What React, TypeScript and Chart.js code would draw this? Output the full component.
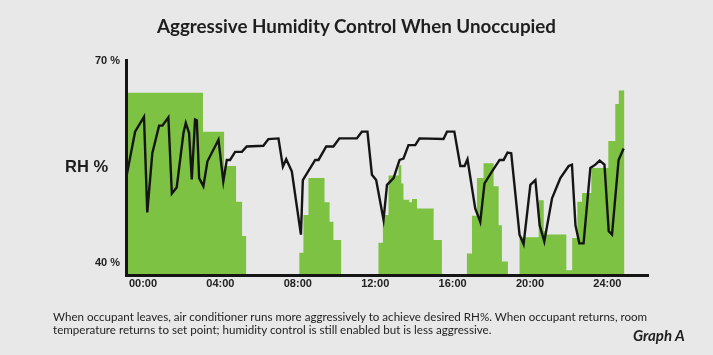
import React, { useEffect, useRef } from "react";
import { Chart, registerables } from "chart.js";

Chart.register(...registerables);

// ---- data ----
const TITLE = "Aggressive Humidity Control When Unoccupied";
const Y_LABEL = "RH %";
const CAPTION_LINES = [
  "When occupant leaves, air conditioner runs more aggressively to achieve desired RH%. When occupant returns, room",
  "temperature returns to set point; humidity control is still enabled but is less aggressive.",
];
const GRAPH_TAG = "Graph A";

const hourTicks = [0, 4, 8, 12, 16, 20, 24];
const rhTicks = [40, 70];
const HOUR_MIN = -0.88;
const HOUR_MAX = 26.1;
const RH_MIN = 38.2;
const RH_MAX = 70.15;
const FLOOR = RH_MIN;

// measured relative humidity (black line)
const rhHours = [
  -0.84, -0.41, 0.05, 0.22, 0.48, 0.83, 1.0, 1.31, 1.49, 1.74, 2.09, 2.21, 2.38, 2.52, 2.69, 2.78, 2.9, 3.12,
  3.33, 3.9, 4.15, 4.33, 4.5, 4.76, 5.11, 5.36, 6.22, 6.48, 7.0, 7.23, 7.4, 7.69, 7.95, 8.16, 8.26, 8.9, 9.07,
  9.47, 9.84, 10.15, 11.05, 11.31, 11.6, 11.83, 12.05, 12.43, 12.61, 12.95, 13.26, 13.46, 13.72, 14.07, 14.29,
  15.53, 15.71, 16.09, 16.4, 16.62, 16.77, 17.17, 17.43, 17.65, 18.04, 18.43, 18.64, 18.84, 19.03, 19.46,
  19.67, 20.02, 20.28, 20.5, 20.74, 21.14, 21.57, 22.0, 22.17, 22.35, 22.55, 22.77, 23.12, 23.38, 23.6,
  23.85, 24.07, 24.24, 24.58, 24.84,
];
const rhValues = [
  53.1, 59.5, 61.7, 47.5, 56.3, 60.4, 60.4, 61.6, 50.3, 51.2, 59.3, 60.8, 59.3, 52.4, 61.3, 61.2, 52.6, 51.4,
  55.1, 58.3, 52.1, 55.3, 55.3, 56.5, 56.5, 57.3, 57.4, 58.4, 58.5, 54.3, 55.4, 53.6, 48.4, 44.2, 52.3, 55.3,
  55.3, 57.3, 57.3, 58.5, 58.5, 59.5, 59.5, 53.1, 52.3, 46.4, 51.6, 52.6, 55.3, 55.5, 57.5, 57.5, 58.5,
  58.4, 59.5, 59.5, 54.4, 54.4, 55.4, 48.1, 46.1, 51.8, 53.6, 55.3, 55.3, 56.4, 56.3, 44.2,
  42.8, 51.6, 52.3, 45.6, 43.2, 49.6, 52.6, 54.4, 54.6, 45.6, 42.9, 42.9, 54.1, 54.6, 55.2,
  54.6, 44.7, 44.2, 55.3, 57.0,
];

// dehumidification level (green steps); FLOOR = no dehumidification
const dehumHours = [
  -0.85, 3.1, 4.19, 4.81, 5.12, 5.33,
  8.08, 8.29, 8.55, 9.38, 9.64, 9.84, 10.24,
  12.17, 12.4, 12.69, 13.21, 13.35, 13.46, 13.76, 13.9, 14.16, 15.02, 15.45,
  16.74, 17.0, 17.26, 17.6, 18.12, 18.38, 18.55, 18.86,
  19.46, 20.45, 20.71, 20.88, 21.88,
  22.18, 22.45, 22.69, 23.17, 24.05, 24.41, 24.59, 24.88,
];
const dehumLevels = [
  65.3, 59.5, 54.4, 49.1, 44.0, FLOOR,
  41.5, 47.1, 52.6, 49.0, 46.1, 43.4, FLOOR,
  43.0, 47.1, 53.0, 54.5, 51.8, 49.4, 49.0, 49.5, 48.1, 43.4, FLOOR,
  41.4, 47.0, 52.6, 54.8, 51.4, 45.6, 40.2, FLOOR,
  43.8, 49.3, 44.7, 44.2, 38.9,
  43.7, 49.1, 50.4, 54.1, 58.1, 63.6, 65.6, FLOOR,
];

const BG = "#e8e8e8";
const GREEN = "#7dc242";
const INK = "#151515";

export default function App() {
  const canvasRef = useRef<HTMLCanvasElement | null>(null);

  useEffect(() => {
    document.body.style.margin = "0";
    document.body.style.background = BG;
    const canvas = canvasRef.current;
    if (!canvas) return;
    const chart = new Chart(canvas, {
      type: "line",
      data: {
        datasets: [
          {
            label: "RH",
            data: rhHours.map((h, i) => ({ x: h, y: rhValues[i] })),
            borderColor: INK,
            borderWidth: 2.4,
            pointRadius: 0,
            fill: false,
            tension: 0,
            order: 0,
          },
          {
            label: "Dehumidification",
            data: dehumHours.map((h, i) => ({ x: h, y: dehumLevels[i] })),
            stepped: true,
            borderWidth: 0,
            borderColor: GREEN,
            backgroundColor: GREEN,
            fill: "start",
            pointRadius: 0,
            order: 1,
          },
        ],
      },
      options: {
        animation: false,
        responsive: false,
        maintainAspectRatio: false,
        layout: { padding: { left: 0, top: 60, right: 65, bottom: 0 } },
        plugins: {
          legend: { display: false },
          tooltip: { enabled: false },
          title: { display: false },
        },
        scales: {
          x: {
            type: "linear",
            min: HOUR_MIN,
            max: HOUR_MAX,
            afterBuildTicks: (s: any) => {
              s.ticks = hourTicks.map((v) => ({ value: v }));
            },
            afterFit: (s: any) => {
              s.height = 80;
            },
            ticks: {
              autoSkip: false,
              maxRotation: 0,
              padding: 2,
              color: "#222",
              font: { family: "'Liberation Sans', Arial, sans-serif", size: 11, weight: "bold" },
              callback: (v: any) => String(v).padStart(2, "0") + ":00",
            },
            grid: { display: false, drawTicks: false },
            border: { display: true, color: INK, width: 3, z: 1 },
          },
          y: {
            type: "linear",
            min: RH_MIN,
            max: RH_MAX,
            afterBuildTicks: (s: any) => {
              s.ticks = rhTicks.map((v) => ({ value: v }));
            },
            afterFit: (s: any) => {
              s.width = 126;
            },
            ticks: {
              padding: 6,
              color: "#222",
              font: { family: "'Liberation Sans', Arial, sans-serif", size: 11, weight: "bold" },
              callback: (v: any) => v + " %",
            },
            grid: { display: false, drawTicks: false },
            border: { display: true, color: INK, width: 3, z: 1 },
          },
        },
      },
    });
    return () => chart.destroy();
  }, []);

  const textColor = "#1e1e1e";
  return (
    <div style={{ position: "relative", width: 713, height: 355, background: BG, overflow: "hidden" }}>
      <canvas ref={canvasRef} width={713} height={355} style={{ position: "absolute", left: 0, top: 0 }} />
      <div
        style={{
          position: "absolute", left: 0, top: 16, width: 713, textAlign: "center",
          font: "700 18.8px Lato, sans-serif", lineHeight: "19px", color: textColor,
        }}
      >
        {TITLE}
      </div>
      <div
        style={{
          position: "absolute", left: 65, top: 158, font: "700 16.5px 'Liberation Sans', Arial, sans-serif",
          lineHeight: "17px", color: textColor, whiteSpace: "nowrap",
        }}
      >
        {Y_LABEL}
      </div>
      <div
        style={{
          position: "absolute", left: 53, top: 310, font: "400 11.6px Lato, sans-serif",
          lineHeight: "13px", color: textColor, whiteSpace: "nowrap",
        }}
      >
        {CAPTION_LINES[0]}
        <br />
        {CAPTION_LINES[1]}
      </div>
      <div
        style={{
          position: "absolute", left: 633, top: 328, font: "italic 700 15px Lato, sans-serif",
          lineHeight: "15px", color: textColor, whiteSpace: "nowrap",
        }}
      >
        {GRAPH_TAG}
      </div>
    </div>
  );
}
